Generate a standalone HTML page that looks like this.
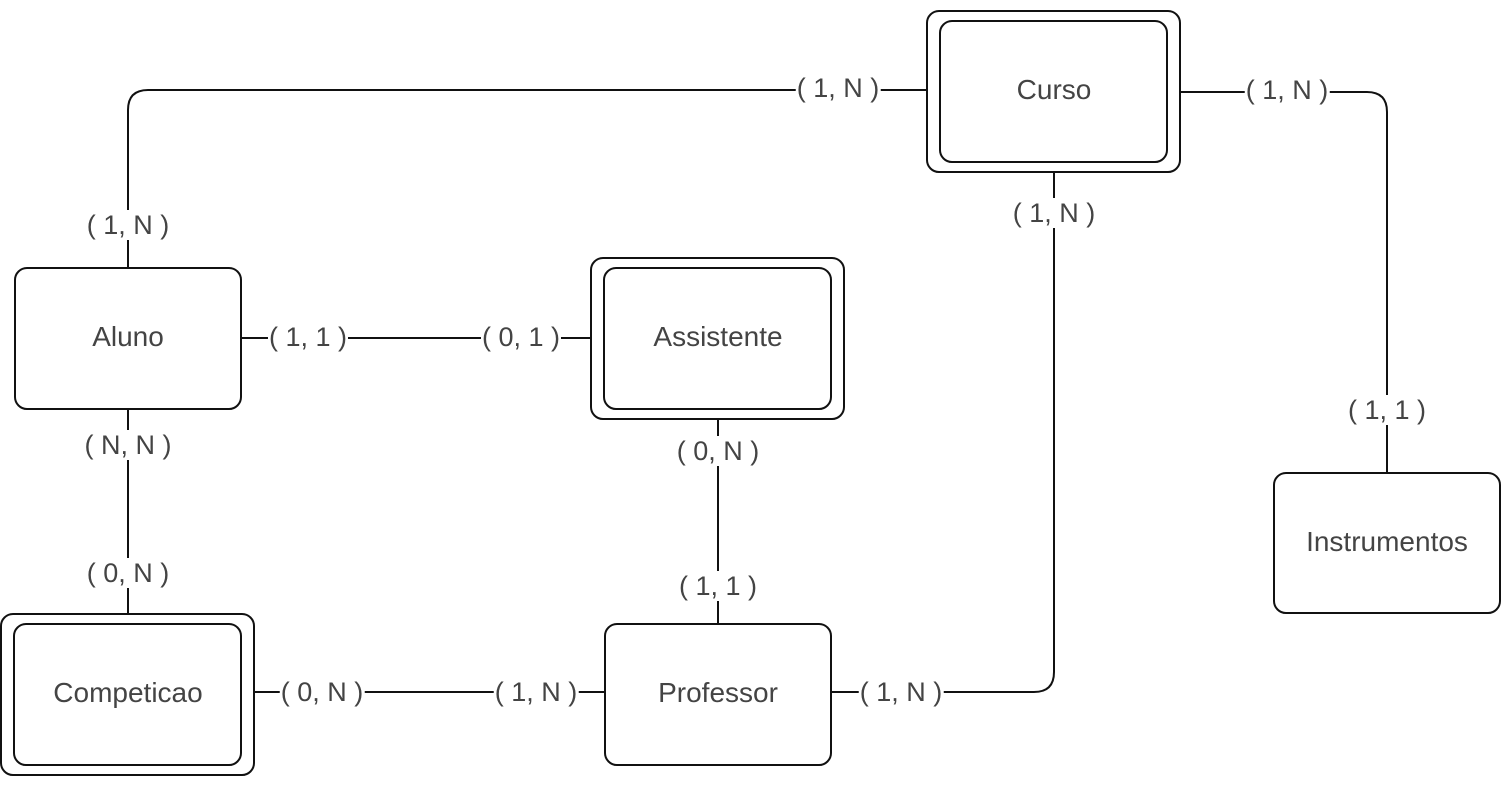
<!DOCTYPE html>
<html><head><meta charset="utf-8"><style>
body{margin:0;width:1511px;height:786px;background:#fff;position:relative;overflow:hidden;font-family:"Liberation Sans",sans-serif;color:#444}
.l{position:absolute;background:#fff;font-size:27px;line-height:30px;transform:translate(-50%,-50%);white-space:pre;padding:0 1px}
.n{position:absolute;font-size:28px;transform:translate(-50%,-50%);white-space:nowrap}
</style></head><body>
<svg width="1511" height="786" style="position:absolute;left:0;top:0" fill="none" stroke="#111" stroke-width="2">
<path d="M128 268 V110 Q128 90 148 90 H927"/>
<path d="M1180 92 H1367 Q1387 92 1387 112 V473"/>
<path d="M1054 172 V672 Q1054 692 1034 692 H831"/>
<path d="M241 338 H591"/>
<path d="M128 409 V614"/>
<path d="M718 419 V624"/>
<path d="M254 692 H605"/>
<rect x="927" y="11" width="253" height="161" rx="12"/>
<rect x="940" y="21" width="227" height="141" rx="12"/>
<rect x="15" y="268" width="226" height="141" rx="12"/>
<rect x="591" y="258" width="253" height="161" rx="12"/>
<rect x="604" y="268" width="227" height="141" rx="12"/>
<rect x="1274" y="473" width="226" height="140" rx="12"/>
<rect x="1" y="614" width="253" height="161" rx="12"/>
<rect x="14" y="624" width="227" height="141" rx="12"/>
<rect x="605" y="624" width="226" height="141" rx="12"/>
</svg>
<div class="n" style="left:1054px;top:90px">Curso</div>
<div class="n" style="left:128px;top:337px">Aluno</div>
<div class="n" style="left:718px;top:337px">Assistente</div>
<div class="n" style="left:1387px;top:542px">Instrumentos</div>
<div class="n" style="left:128px;top:693px">Competicao</div>
<div class="n" style="left:718px;top:693px">Professor</div>
<div class="l" style="left:838px;top:88px">( 1, N )</div>
<div class="l" style="left:128px;top:225px">( 1, N )</div>
<div class="l" style="left:1287px;top:90px">( 1, N )</div>
<div class="l" style="left:1387px;top:410px">( 1, 1 )</div>
<div class="l" style="left:1054px;top:213px">( 1, N )</div>
<div class="l" style="left:901px;top:692px">( 1, N )</div>
<div class="l" style="left:308px;top:337px">( 1, 1 )</div>
<div class="l" style="left:521px;top:337px">( 0, 1 )</div>
<div class="l" style="left:128px;top:445px">( N, N )</div>
<div class="l" style="left:128px;top:573px">( 0, N )</div>
<div class="l" style="left:718px;top:451px">( 0, N )</div>
<div class="l" style="left:718px;top:586px">( 1, 1 )</div>
<div class="l" style="left:322px;top:692px">( 0, N )</div>
<div class="l" style="left:536px;top:692px">( 1, N )</div>
</body></html>
